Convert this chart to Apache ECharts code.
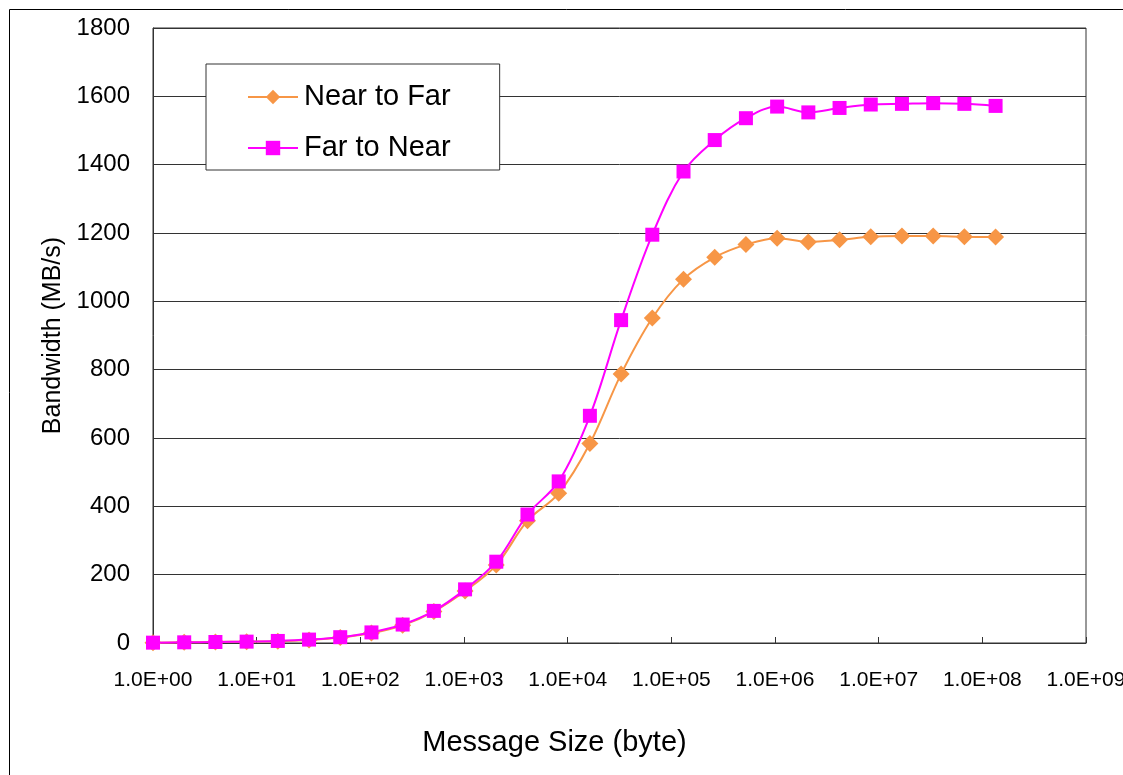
<!DOCTYPE html>
<html>
<head>
<meta charset="utf-8">
<script src="https://cdn.jsdelivr.net/npm/echarts@6/dist/echarts.min.js"></script>
<style>
html,body{margin:0;padding:0;background:#fff;overflow:hidden;}
#chart{width:1123px;height:775px;}
</style>
</head>
<body>
<div id="chart"></div>
<script>
var messageSizes = [1, 2, 4, 8, 16, 32, 64, 128, 256, 512, 1024, 2048, 4096, 8192, 16384, 32768, 65536, 131072, 262144, 524288, 1048576, 2097152, 4194304, 8388608, 16777216, 33554432, 67108864, 134217728];
var nearToFar = [1, 2, 3, 4, 5, 9, 16, 29, 52, 92, 152, 228, 358, 438, 584, 787, 951, 1065, 1129, 1166, 1185, 1174, 1180, 1189, 1191, 1191, 1189, 1188];
var farToNear = [1, 2, 3, 4, 6, 10, 17, 31, 54, 94, 157, 238, 376, 473, 665, 945, 1195, 1380, 1472, 1536, 1570, 1553, 1566, 1576, 1578, 1580, 1578, 1572];
var seriesNames = ['Near to Far', 'Far to Near'];
var xAxisTitle = 'Message Size (byte)';
var yAxisTitle = 'Bandwidth (MB/s)';

function pairs(ys) {
  return messageSizes.map(function (x, i) { return [x, ys[i]]; });
}
var FONT = "'Liberation Sans', Arial, sans-serif";

var chart = echarts.init(document.getElementById('chart'), null, {renderer: 'canvas'});
chart.setOption({
  backgroundColor: '#ffffff',
  animation: false,
  textStyle: {fontFamily: FONT, color: '#000'},
  graphic: [{
    type: 'rect',
    left: 7, top: 7,
    shape: {width: 1200, height: 900},
    style: {fill: 'none', stroke: '#000', lineWidth: 1},
    z: -10, silent: true
  }],
  grid: {
    left: 153, right: 37, top: 28, bottom: 132,
    containLabel: false, outerBoundsMode: 'none',
    show: true, borderColor: '#333', borderWidth: 1, backgroundColor: 'transparent'
  },
  legend: {
    orient: 'vertical',
    left: 206, top: 64,
    padding: [18, 49, 7, 41],
    itemWidth: 50, itemHeight: 18, itemGap: 21,
    borderColor: '#333', borderWidth: 1, backgroundColor: '#fff',
    textStyle: {fontFamily: FONT, fontSize: 29, lineHeight: 30, color: '#000', padding: [0, 0, 0, 1]},
    data: seriesNames
  },
  xAxis: {
    type: 'log', logBase: 10, min: 1, max: 1e9, splitNumber: 9,
    name: xAxisTitle, nameLocation: 'middle', nameGap: 85,
    nameTextStyle: {fontFamily: FONT, fontSize: 29, color: '#000', padding: [0, 130, 0, 0]},
    axisLine: {show: true, lineStyle: {color: '#333', width: 1}},
    axisTick: {show: true, inside: true, length: 6, lineStyle: {color: '#333'}},
    splitLine: {show: false},
    minorTick: {show: false},
    axisLabel: {
      fontFamily: FONT, fontSize: 21, color: '#000', margin: 27,
      showMinLabel: true, showMaxLabel: true,
      formatter: function (v) {
        var e = Math.round(Math.log10(v));
        return '1.0E+' + (e < 10 ? '0' + e : e);
      }
    }
  },
  yAxis: {
    type: 'value', min: 0, max: 1800, interval: 200,
    name: yAxisTitle, nameLocation: 'middle', nameGap: 82, nameRotate: 90,
    nameTextStyle: {fontFamily: FONT, fontSize: 25, color: '#000'},
    axisLine: {show: true, lineStyle: {color: '#333', width: 1}},
    axisTick: {show: false},
    splitLine: {show: true, lineStyle: {color: '#333', width: 1}},
    axisLabel: {fontFamily: FONT, fontSize: 24, color: '#000', margin: 23,
      formatter: function (v) { return String(v); }}
  },
  series: [{
    name: seriesNames[0],
    type: 'line',
    data: pairs(nearToFar),
    smooth: 0.35,
    symbol: 'diamond', symbolSize: 17,
    lineStyle: {color: '#F79646', width: 2},
    itemStyle: {color: '#F79646'},
    z: 2
  }, {
    name: seriesNames[1],
    type: 'line',
    data: pairs(farToNear),
    smooth: 0.35,
    symbol: 'rect', symbolSize: 14,
    lineStyle: {color: '#FF00FF', width: 2},
    itemStyle: {color: '#FF00FF'},
    z: 3
  }]
});
</script>
</body>
</html>
